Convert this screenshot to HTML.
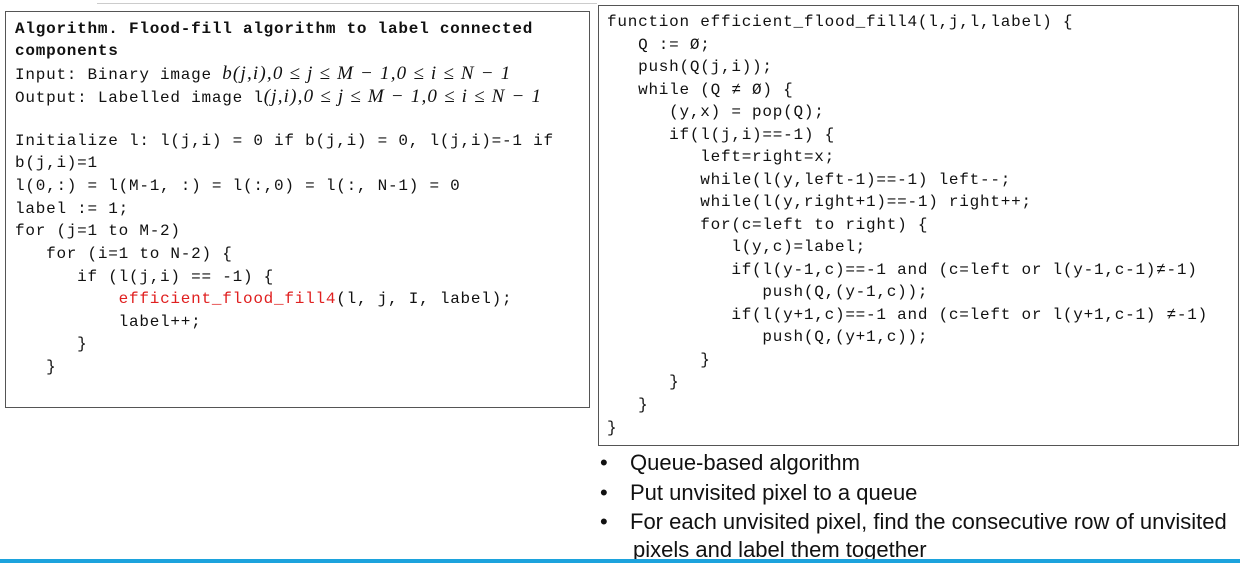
<!DOCTYPE html>
<html><head><meta charset="utf-8"><style>
body{margin:0;width:1240px;height:563px;background:#fff;position:relative;overflow:hidden}
.box{position:absolute;border:1.5px solid #555;box-sizing:border-box}
.m{position:absolute;font-family:"Liberation Mono",monospace;font-size:16px;letter-spacing:0.76px;white-space:pre;color:#111;line-height:20px}
.b{font-weight:bold}
.r{color:#e02020}
.it{font-family:"Liberation Serif",serif;font-style:italic;letter-spacing:1.2px;font-size:19px}
.s{position:absolute;font-family:"Liberation Sans",sans-serif;font-size:22px;color:#111;white-space:pre;line-height:24px}
</style></head><body>
<div style="position:absolute;left:97px;top:3px;width:500px;height:1px;background:#ccc"></div>
<div class="box" style="left:5px;top:11px;width:585px;height:397px"></div>
<div class="box" style="left:598px;top:5px;width:641px;height:441px"></div>

<div class="m b" style="left:15px;top:19px">Algorithm. Flood-fill algorithm to label connected</div>
<div class="m b" style="left:15px;top:41px">components</div>
<div class="m" style="left:15px;top:64px">Input: Binary image <span class="it">b(j,i),0 ≤ j ≤ M − 1,0 ≤ i ≤ N − 1</span></div>
<div class="m" style="left:15px;top:87px">Output: Labelled image l<span class="it">(j,i),0 ≤ j ≤ M − 1,0 ≤ i ≤ N − 1</span></div>
<div class="m" style="left:15px;top:131px">Initialize l: l(j,i) = 0 if b(j,i) = 0, l(j,i)=-1 if</div>
<div class="m" style="left:15px;top:153px">b(j,i)=1</div>
<div class="m" style="left:15px;top:176px">l(0,:) = l(M-1, :) = l(:,0) = l(:, N-1) = 0</div>
<div class="m" style="left:15px;top:199px">label := 1;</div>
<div class="m" style="left:15px;top:221px">for (j=1 to M-2)</div>
<div class="m" style="left:15px;top:244px">   for (i=1 to N-2) {</div>
<div class="m" style="left:15px;top:267px">      if (l(j,i) == -1) {</div>
<div class="m" style="left:15px;top:289px">          <span class="r">efficient_flood_fill4</span>(l, j, I, label);</div>
<div class="m" style="left:15px;top:312px">          label++;</div>
<div class="m" style="left:15px;top:334px">      }</div>
<div class="m" style="left:15px;top:357px">   }</div>

<div class="m" style="left:607px;top:12px">function efficient_flood_fill4(l,j,l,label) {</div>
<div class="m" style="left:607px;top:35px">   Q := Ø;</div>
<div class="m" style="left:607px;top:57px">   push(Q(j,i));</div>
<div class="m" style="left:607px;top:80px">   while (Q ≠ Ø) {</div>
<div class="m" style="left:607px;top:102px">      (y,x) = pop(Q);</div>
<div class="m" style="left:607px;top:125px">      if(l(j,i)==-1) {</div>
<div class="m" style="left:607px;top:147px">         left=right=x;</div>
<div class="m" style="left:607px;top:170px">         while(l(y,left-1)==-1) left--;</div>
<div class="m" style="left:607px;top:192px">         while(l(y,right+1)==-1) right++;</div>
<div class="m" style="left:607px;top:215px">         for(c=left to right) {</div>
<div class="m" style="left:607px;top:237px">            l(y,c)=label;</div>
<div class="m" style="left:607px;top:260px">            if(l(y-1,c)==-1 and (c=left or l(y-1,c-1)≠-1)</div>
<div class="m" style="left:607px;top:282px">               push(Q,(y-1,c));</div>
<div class="m" style="left:607px;top:305px">            if(l(y+1,c)==-1 and (c=left or l(y+1,c-1) ≠-1)</div>
<div class="m" style="left:607px;top:327px">               push(Q,(y+1,c));</div>
<div class="m" style="left:607px;top:350px">         }</div>
<div class="m" style="left:607px;top:372px">      }</div>
<div class="m" style="left:607px;top:395px">   }</div>
<div class="m" style="left:607px;top:418px">}</div>

<div class="s" style="left:600px;top:451px">•</div><div class="s" style="left:630px;top:451px">Queue-based algorithm</div>
<div class="s" style="left:600px;top:481px">•</div><div class="s" style="left:630px;top:481px">Put unvisited pixel to a queue</div>
<div class="s" style="left:600px;top:510px">•</div><div class="s" style="left:630px;top:510px">For each unvisited pixel, find the consecutive row of unvisited</div>
<div class="s" style="left:633px;top:538px">pixels and label them together</div>
<div style="position:absolute;left:0;top:559px;width:1240px;height:4px;background:#1ca3dd"></div>
</body></html>
